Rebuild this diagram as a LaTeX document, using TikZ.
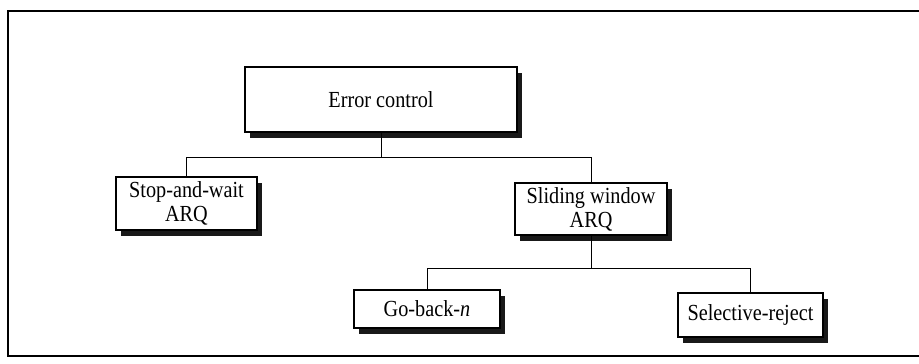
\documentclass[tikz,border=0pt]{standalone}
\usepackage{fontspec}
\setmainfont[FakeStretch=0.88]{Liberation Serif}
\usetikzlibrary{shadows}
\begin{document}
\begin{tikzpicture}[x=1pt,y=-1pt,
  box/.style={draw, line width=1.2pt, fill=white, align=center, inner sep=0pt,
    font=\fontsize{23}{24}\selectfont,
    drop shadow={shadow xshift=4.5pt, shadow yshift=-5.5pt, fill=black, opacity=0.9}},
  link/.style={line width=0.9pt}]
\useasboundingbox (0,0) rectangle (919,364);
% Page frame
\draw[line width=1.8pt] (919,11) -- (8,11) -- (8,356) -- (919,356);
% Boxes
\node[box, minimum width=272pt, minimum height=65pt] (ec) at (381,99.5) {Error control};
\node[box, minimum width=141pt, minimum height=53pt] (sw) at (186.5,203.5) {Stop-and-wait\\ARQ};
\node[box, minimum width=152pt, minimum height=52pt] (sl) at (591,209) {Sliding window\\ARQ};
\node[box, minimum width=146pt, minimum height=38pt] (gb) at (427,309) {Go-back-\textit{n}};
\node[box, minimum width=145pt, minimum height=44pt] (sr) at (750.5,315) {Selective-reject};
% Connectors
\coordinate (j1) at (ec.south |- 0,157);
\coordinate (j2) at (sl.south |- 0,268);
\draw[link] (ec.south) -- (j1);
\draw[link] (j1) -| (sw.north);
\draw[link] (j1) -| (sl.north);
\draw[link] (sl.south) -- (j2);
\draw[link] (j2) -| (gb.north);
\draw[link] (j2) -| (sr.north);
\end{tikzpicture}
\end{document}
